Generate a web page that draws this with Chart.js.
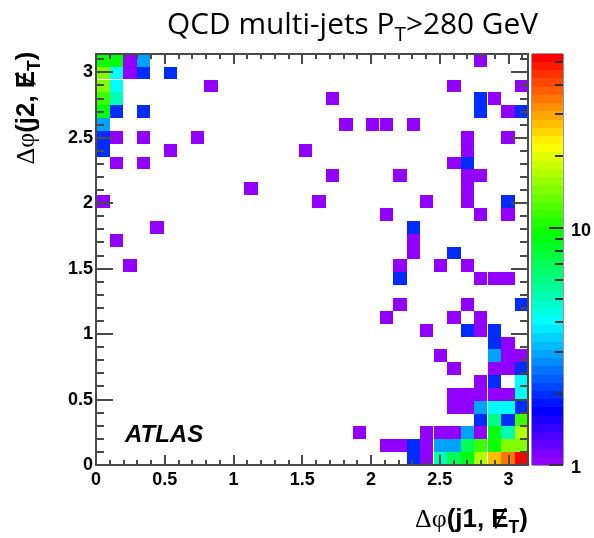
<!DOCTYPE html>
<html><head><meta charset="utf-8">
<script src="https://cdn.jsdelivr.net/npm/chart.js@4.4.0/dist/chart.umd.min.js"></script>
<style>html,body{margin:0;padding:0;background:#fff;}canvas{display:block;}</style>
</head><body>
<canvas id="c" width="594" height="538"></canvas>
<script>
// ---- data ----
const NBINS = 32;                 // bins per axis
const PHI_MAX = Math.PI;          // axis range 0..pi
const Z_MIN = 1, Z_MAX = 54;      // colour-scale range (log)
const MINOR_STEP = 0.1, MAJOR_STEP = 0.5;
const zTickLabels = [1, 10];
const zTickValues = [1,2,3,4,5,6,7,8,9,10,20,30,40,50];
const titleMain = 'QCD multi-jets P', titleSub = 'T', titleRest = '>280 GeV';
const xTitle = ['\u0394\u03c6', '(j1, \u0246', 'T', ')'];
const yTitle = ['\u0394\u03c6', '(j2, \u0246', 'T', ')'];
const atlasLabel = 'ATLAS';

// bin index along x = Δφ(j1,MET), bin index along y = Δφ(j2,MET), entries
const binJ1 = [
  0,1,2,3,28,
  0,1,2,3,5,
  0,1,8,26,31,
  0,1,17,28,29,
  0,1,3,28,30,31,
  0,18,20,21,23,
  0,1,3,7,27,30,
  0,5,15,27,
  1,3,26,27,
  17,22,27,28,
  11,27,
  0,16,24,27,30,
  21,28,30,
  4,23,
  1,23,
  23,26,
  2,22,25,27,
  22,28,29,30,
  22,27,31,
  21,26,28,
  24,27,28,29,
  29,30,
  25,29,30,31,
  26,29,30,31,
  28,29,31,
  26,27,28,29,30,31,
  26,27,28,29,30,31,
  28,29,30,31,
  19,24,25,26,27,28,29,30,31,
  21,22,23,24,25,26,27,28,29,30,31,
  23,24,25,26,27,28,29,30,31
];
const binJ2 = [
  31,31,31,31,31,
  30,30,30,30,30,
  29,29,29,29,29,
  28,28,28,28,28,
  27,27,27,27,27,27,
  26,26,26,26,26,
  25,25,25,25,25,25,
  24,24,24,24,
  23,23,23,23,
  22,22,22,22,
  21,21,
  20,20,20,20,20,
  19,19,19,
  18,18,
  17,17,
  16,16,
  15,15,15,15,
  14,14,14,14,
  12,12,12,
  11,11,11,
  10,10,10,10,
  9,9,
  8,8,8,8,
  7,7,7,7,
  6,6,6,
  5,5,5,5,5,5,
  4,4,4,4,4,4,
  3,3,3,3,
  2,2,2,2,2,2,2,2,2,
  1,1,1,1,1,1,1,1,1,1,1,
  0,0,0,0,0,0,0,0,0
];
const entries = [
  10,9,1,3,1,
  15,4,1,2,2,
  14,4,1,1,1,
  11,5,1,2,1,
  9,2,2,2,1,2,
  3,1,1,1,1,
  2,1,1,1,1,1,
  2,1,1,1,
  1,1,1,2,
  1,1,1,1,
  1,1,
  1,1,1,1,2,
  1,1,1,
  1,2,
  1,1,
  1,2,
  1,1,1,1,
  2,1,1,1,
  1,1,2,
  1,1,1,
  1,2,1,2,
  2,1,
  1,3,1,1,
  1,1,1,2,
  1,2,4,
  1,1,1,1,1,4,
  1,1,3,4,4,2,
  2,6,2,11,
  1,1,1,1,3,1,9,5,17,
  1,1,2,1,3,3,7,11,10,15,15,
  2,1,5,7,9,17,27,36,53
];

// ---- helpers ----
const BIN_W = PHI_MAX / NBINS;
const NCOL = 50;
const LOGMAX = Math.log10(Z_MAX);
function paletteColor(k){ const hue = 280 - (k + 1) * (280 / NCOL); return `hsl(${hue},100%,50%)`; }
function colorFor(v){ let k = Math.floor(NCOL * Math.log10(v) / LOGMAX + 1e-9); k = Math.max(0, Math.min(NCOL - 1, k)); return paletteColor(k); }
function onStep(v, s){ const r = Math.round(v / s); return Math.abs(v / s - r) < 1e-6; }
function fmtTick(v){ return onStep(v, MAJOR_STEP) ? String(Math.round(v * 2) / 2) : ''; }

const points = entries.map((v, i) => ({ x: (binJ1[i] + 0.5) * BIN_W, y: (binJ2[i] + 0.5) * BIN_W, v }));

const AXIS_COLOR = '#4a4a4a';
const LW = 2;
const SANS = '"Liberation Sans", Arial, sans-serif';
Chart.defaults.font.family = SANS;
Chart.defaults.color = '#000';

function drawRuns(ctx, runs, x, y, align, targetWidth){
  let base = 25, total = 0;
  const measure = (s) => { total = 0; runs.forEach(r => { ctx.font = r.f(s * r.k); total += ctx.measureText(r.t).width; }); return total; };
  if (targetWidth) { base = base * targetWidth / measure(base); }
  measure(base);
  let cx = align === 'right' ? x - total : align === 'center' ? x - total / 2 : x;
  ctx.textBaseline = 'alphabetic'; ctx.textAlign = 'left';
  runs.forEach(r => { ctx.font = r.f(base * r.k); ctx.fillText(r.t, cx, y + (r.dy || 0) * base); cx += ctx.measureText(r.t).width; });
}
function axisTitleRuns(parts){
  const serif = s => `${s}px "Liberation Serif", "DejaVu Serif", serif`;
  const bold = s => `bold ${s}px ${SANS}`;
  return [ {t: parts[0], f: serif, k: 1.0}, {t: parts[1], f: bold, k: 1}, {t: parts[2], f: bold, k: 0.68, dy: 0.25}, {t: parts[3], f: bold, k: 1} ];
}
// lines drawn as filled rectangles of thickness w
function hLine(ctx, x0, x1, yy, w){ const a = Math.min(x0, x1), b = Math.max(x0, x1); ctx.fillRect(Math.round(a), Math.round(yy), Math.round(b - a), w); }
function vLine(ctx, xx, y0, y1, w){ const a = Math.min(y0, y1), b = Math.max(y0, y1); ctx.fillRect(Math.round(xx), Math.round(a), w, Math.round(b - a)); }

const heatmapPlugin = {
  id: 'heatmap',
  afterDatasetsDraw(chart){
    const {ctx, scales: {x, y}} = chart;
    const meta = chart.getDatasetMeta(0);
    const data = chart.data.datasets[0].data;
    ctx.save();
    meta.data.forEach((el, i) => {
      const d = data[i];
      const x0 = Math.round(x.getPixelForValue(d.x - BIN_W / 2));
      const x1 = Math.round(x.getPixelForValue(d.x + BIN_W / 2));
      const y0 = Math.round(y.getPixelForValue(d.y + BIN_W / 2));
      const y1 = Math.round(y.getPixelForValue(d.y - BIN_W / 2));
      ctx.fillStyle = colorFor(d.v);
      ctx.fillRect(x0, y0, x1 - x0, y1 - y0);
    });
    ctx.restore();
  },
  afterDraw(chart){
    const {ctx, chartArea: {left, right, top, bottom}, scales: {x, y, z}} = chart;
    ctx.save();
    ctx.fillStyle = AXIS_COLOR;
    // frame
    hLine(ctx, left - 1, right + 1, top - 1, LW); hLine(ctx, left - 1, right + 1, bottom - 1, LW);
    vLine(ctx, left - 1, top - 1, bottom + 1, LW); vLine(ctx, right - 1, top - 1, bottom + 1, LW);
    // inward ticks
    const nMinor = Math.floor(PHI_MAX / MINOR_STEP + 1e-9);
    for (let k = 0; k <= nMinor; k++) {
      const v = k * MINOR_STEP;
      const major = onStep(v, MAJOR_STEP);
      const px = Math.round(x.getPixelForValue(v)) - 1;
      const lx = major ? 10 : 5;
      vLine(ctx, px, bottom - lx, bottom, LW);
      vLine(ctx, px, top, top + lx, LW);
      const py = Math.round(y.getPixelForValue(v)) - 1;
      const ly = major ? 17 : 8;
      hLine(ctx, left, left + ly, py, LW);
      hLine(ctx, right - ly, right, py, LW);
    }

    // colour bar
    const cbL = z.left + 4, cbW = 31;
    for (let k = 0; k < NCOL; k++) {
      const zLo = Math.pow(10, k * LOGMAX / NCOL), zHi = Math.pow(10, (k + 1) * LOGMAX / NCOL);
      const yHi = Math.round(z.getPixelForValue(zHi)), yLo = Math.round(z.getPixelForValue(zLo));
      ctx.fillStyle = paletteColor(k);
      ctx.fillRect(cbL, yHi, cbW, yLo - yHi);
    }
    ctx.fillStyle = '#999';
    hLine(ctx, cbL, cbL + cbW, z.top - 1, 1); hLine(ctx, cbL, cbL + cbW, z.bottom, 1);
    vLine(ctx, cbL - 1, z.top, z.bottom, 1); vLine(ctx, cbL + cbW, z.top, z.bottom, 1);
    ctx.fillStyle = '#333';
    zTickValues.forEach(v => {
      const len = zTickLabels.includes(v) ? 14 : 8;
      const py = Math.round(z.getPixelForValue(v)) - 1;
      hLine(ctx, cbL + cbW - len, cbL + cbW, py, LW);
    });

    // texts
    ctx.fillStyle = '#000';
    const os = s => `${s}px "Open Sans", ${SANS}`;
    drawRuns(ctx, [ {t: titleMain, f: os, k: 1}, {t: titleSub, f: os, k: 0.7, dy: 0.25}, {t: titleRest, f: os, k: 1} ], 538, 34, 'right', 371);
    drawRuns(ctx, axisTitleRuns(xTitle), right, 527, 'right', 113);
    ctx.save();
    ctx.translate(34, 108); ctx.rotate(-Math.PI / 2);
    drawRuns(ctx, axisTitleRuns(yTitle), 0, 0, 'center', 113);
    ctx.restore();
    ctx.font = `italic bold 24px ${SANS}`;
    ctx.textAlign = 'left'; ctx.textBaseline = 'alphabetic';
    ctx.fillText(atlasLabel, 125, 442);
    ctx.restore();
  }
};

const tickFont = { size: 18, weight: 'bold', family: SANS };
new Chart(document.getElementById('c'), {
  type: 'scatter',
  data: { datasets: [{ data: points, xAxisID: 'x', yAxisID: 'y', pointRadius: 0, pointHoverRadius: 0, backgroundColor: points.map(p => colorFor(p.v)) }] },
  options: {
    responsive: false, animation: false, events: [],
    layout: { padding: { top: 52, left: 0, right: 0, bottom: 0 } },
    plugins: { legend: { display: false }, tooltip: { enabled: false }, title: { display: false } },
    scales: {
      x: {
        type: 'linear', position: 'bottom', min: 0, max: PHI_MAX,
        grid: { display: false, drawTicks: false }, border: { display: false },
        ticks: { stepSize: MAJOR_STEP, includeBounds: false, autoSkip: false, maxRotation: 0, minRotation: 0, padding: 4, font: tickFont, color: '#000', callback: v => fmtTick(v) },
        afterFit(s){ s.height = 73; }
      },
      y: {
        type: 'linear', position: 'left', min: 0, max: PHI_MAX,
        grid: { display: false, drawTicks: false }, border: { display: false },
        ticks: { stepSize: MAJOR_STEP, includeBounds: false, autoSkip: false, padding: 3, font: tickFont, color: '#000', callback: v => fmtTick(v) },
        afterFit(s){ s.width = 96; }
      },
      z: {
        type: 'logarithmic', axis: 'y', position: 'right', min: Z_MIN, max: Z_MAX,
        grid: { display: false, drawTicks: false }, border: { display: false },
        ticks: { autoSkip: false, padding: 43, labelOffset: 3, font: tickFont, color: '#000', callback: v => zTickLabels.includes(v) ? String(v) : '' },
        afterFit(s){ s.width = 66; }
      }
    }
  },
  plugins: [heatmapPlugin]
});
</script>
</body></html>
